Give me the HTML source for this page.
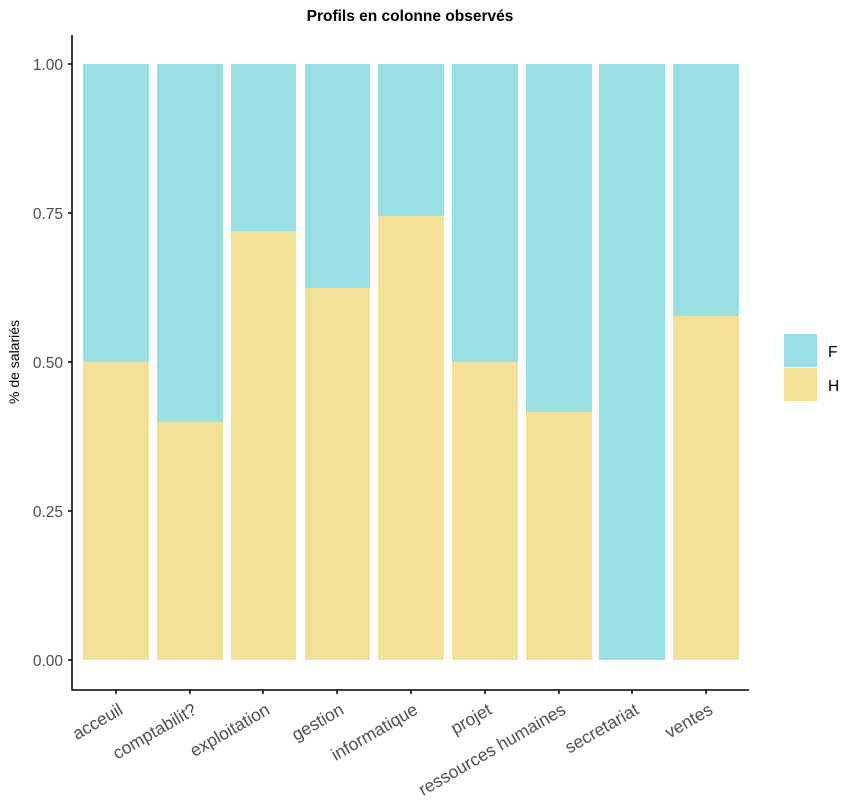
<!DOCTYPE html>
<html><head><style>body{margin:0;background:#fff}svg{display:block}</style></head><body>
<svg width="857" height="809" xmlns="http://www.w3.org/2000/svg" font-family="Liberation Sans, Arial, sans-serif">
<rect width="857" height="809" fill="#fff"/>
<text x="410" y="21" text-anchor="middle" font-size="15.5" font-weight="bold" fill="#000">Profils en colonne observés</text>
<g>
<rect x="83" y="64" width="66" height="596" fill="#9ADFE3"/><rect x="83" y="362" width="66" height="298" fill="#F3E19A"/>
<rect x="157" y="64" width="66" height="596" fill="#9ADFE3"/><rect x="157" y="422" width="66" height="238" fill="#F3E19A"/>
<rect x="231" y="64" width="65" height="596" fill="#9ADFE3"/><rect x="231" y="231" width="65" height="429" fill="#F3E19A"/>
<rect x="305" y="64" width="65" height="596" fill="#9ADFE3"/><rect x="305" y="288" width="65" height="372" fill="#F3E19A"/>
<rect x="378" y="64" width="66" height="596" fill="#9ADFE3"/><rect x="378" y="216" width="66" height="444" fill="#F3E19A"/>
<rect x="452" y="64" width="66" height="596" fill="#9ADFE3"/><rect x="452" y="362" width="66" height="298" fill="#F3E19A"/>
<rect x="526" y="64" width="66" height="596" fill="#9ADFE3"/><rect x="526" y="412" width="66" height="248" fill="#F3E19A"/>
<rect x="599" y="64" width="66" height="596" fill="#9ADFE3"/>
<rect x="673" y="64" width="66" height="596" fill="#9ADFE3"/><rect x="673" y="316" width="66" height="344" fill="#F3E19A"/>
</g>
<g stroke="#000" stroke-width="1.5" fill="none">
<path d="M72 35V690H749"/>
<path d="M68 64H72M68 213H72M68 362H72M68 511H72M68 660H72"/>
<path d="M116 690v4M190 690v4M263 690v4M337 690v4M411 690v4M485 690v4M559 690v4M632 690v4M706 690v4"/>
</g>
<g font-size="15.5" fill="#4d4d4d" text-anchor="end">
<text x="63" y="70">1.00</text><text x="63" y="219">0.75</text><text x="63" y="368">0.50</text><text x="63" y="517">0.25</text><text x="63" y="666">0.00</text>
</g>
<g font-size="17.5" fill="#4d4d4d" text-anchor="end">
<text transform="translate(124,713) rotate(-30)">acceuil</text>
<text transform="translate(198,713) rotate(-30)">comptabilit?</text>
<text transform="translate(271,713) rotate(-30)">exploitation</text>
<text transform="translate(345,713) rotate(-30)">gestion</text>
<text transform="translate(419,713) rotate(-30)">informatique</text>
<text transform="translate(493,713) rotate(-30)">projet</text>
<text transform="translate(567,713) rotate(-30)">ressources humaines</text>
<text transform="translate(640,713) rotate(-30)">secretariat</text>
<text transform="translate(714,713) rotate(-30)">ventes</text>
</g>
<text transform="translate(19,362) rotate(-90)" text-anchor="middle" font-size="14" fill="#000">% de salariés</text>
<rect x="784" y="334" width="33" height="33" fill="#9ADFE3"/>
<rect x="784" y="368" width="33" height="33" fill="#F3E19A"/>
<text x="828" y="357" font-size="15.5" fill="#000">F</text>
<text x="828" y="391" font-size="15.5" fill="#000">H</text>
</svg>
</body></html>
